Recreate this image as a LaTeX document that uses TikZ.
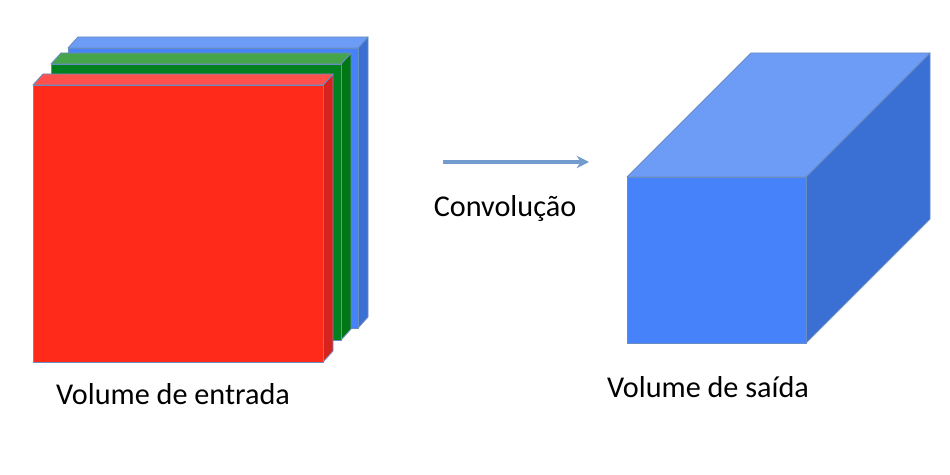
\documentclass[tikz,border=0pt]{standalone}
\usepackage{fontspec}
\setmainfont{Carlito}
\definecolor{edgecol}{RGB}{105,140,195}
\definecolor{arrowcol}{RGB}{115,155,205}
\definecolor{redfront}{RGB}{255,42,26}
\definecolor{redtop}{RGB}{255,80,75}
\definecolor{redside}{RGB}{215,35,30}
\definecolor{greenfront}{RGB}{0,128,30}
\definecolor{greentop}{RGB}{70,165,75}
\definecolor{greenside}{RGB}{0,118,20}
\definecolor{bluefront}{RGB}{70,130,250}
\definecolor{bluetop}{RGB}{108,156,245}
\definecolor{blueside}{RGB}{58,112,212}
\usetikzlibrary{arrows.meta,positioning}

\begin{document}
\begin{tikzpicture}[x=0.02cm,y=0.02cm,
      face/.style={draw=edgecol,line width=0.5pt,line join=round},
      label/.style={font=\fontsize{17.2}{20}\selectfont,anchor=base,inner sep=0pt}
    ]
      \useasboundingbox (0,0) rectangle (950,474);
      % Blue layer (back)
      \filldraw[face,fill=blueside]  (358,146) -- ++(10,11) -- ++(0,280) -- (358,426) -- cycle;
      \filldraw[face,fill=bluetop]   (68,426) -- (358,426) -- ++(10,11) -- (78,437) -- cycle;
      \filldraw[face,fill=bluefront] (68,146) rectangle (358,426);
      % Green layer
      \filldraw[face,fill=greenside]  (341,134) -- ++(10,11) -- ++(0,276) -- (341,410) -- cycle;
      \filldraw[face,fill=greentop]   (51,410) -- (341,410) -- ++(10,11) -- (61,421) -- cycle;
      \filldraw[face,fill=greenfront] (51,134) rectangle (341,410);
      % Red layer (front)
      \filldraw[face,fill=redside]  (323,112) -- ++(10,11) -- ++(0,277) -- (323,389) -- cycle;
      \filldraw[face,fill=redtop]   (33,389) -- (323,389) -- ++(10,11) -- (43,400) -- cycle;
      \filldraw[face,fill=redfront] (33,112) rectangle (323,389);
      % Output volume
      \filldraw[face,fill=blueside]  (806,131) -- (930,255) -- (930,421) -- (806,297) -- cycle;
      \filldraw[face,fill=bluetop]   (627,297) -- (806,297) -- (930,421) -- (751,421) -- cycle;
      \filldraw[face,fill=bluefront] (627,131) rectangle (806,297);
      % Arrow and labels
      \coordinate (convstart) at (443,312);
      \coordinate (convend) at (589,312);
      \draw[arrowcol,line width=1.8pt,-{Stealth[length=7pt,width=7pt]}] (convstart) -- (convend);
      \node[label] (conv) at (505,257) {Convolução};
      \node[label] (entrada) at (173,70) {Volume de entrada};
      \node[label] (saida) at (708,77) {Volume de saída};
    \end{tikzpicture}
\end{document}
